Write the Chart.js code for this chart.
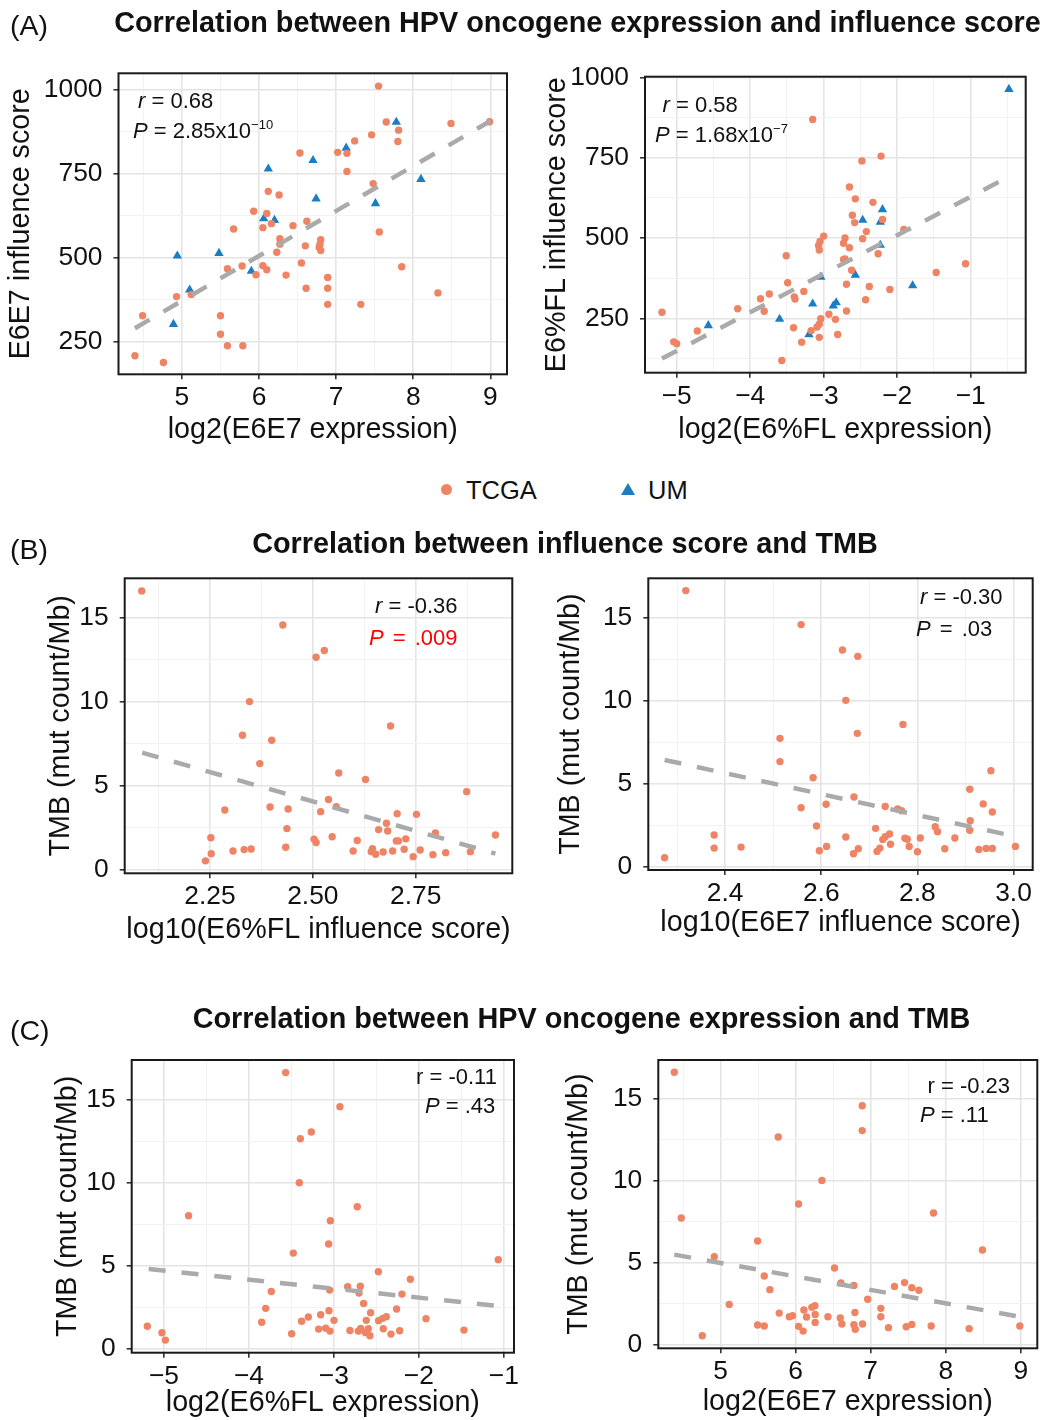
<!DOCTYPE html>
<html>
<head>
<meta charset="utf-8">
<script src="https://cdn.jsdelivr.net/npm/chart.js@4.4.0/dist/chart.umd.min.js"></script>
<style>
  body { margin: 0; background: #fff; }
  #page { position: relative; width: 1045px; height: 1420px; overflow: hidden;
          font-family: "Liberation Sans", Arial, sans-serif; color: #111; }
  canvas { position: absolute; }
  .t { position: absolute; white-space: nowrap; line-height: 1; z-index: 2; }
  .sup { font-size: 13px; position: relative; top: -9px; }
</style>
</head>
<body>
<div id="page"></div>
<script>
// ---- data ----

// (A) left: E6E7 influence score vs log2(E6E7 expression)
const a1TcgaX = [7.55, 7.65, 7.81, 7.80, 8.49, 8.99, 7.46, 7.24, 7.02, 7.14, 7.14, 6.53, 7.48, 6.12, 6.26, 5.93, 6.10, 6.16, 6.05, 6.44, 6.62, 5.67, 6.27, 6.27, 6.23, 6.60, 6.80, 6.79, 6.78, 6.80, 6.55, 7.56, 7.85, 5.78, 6.05, 6.10, 5.59, 5.96, 6.35, 6.89, 6.61, 6.89, 6.89, 7.32, 8.32, 5.12, 4.93, 5.50, 5.50, 5.59, 5.79, 4.49, 4.39, 4.76];
const a1TcgaY = [1010, 903, 879, 845, 899, 904, 865, 847, 813, 810, 756, 811, 720, 697, 686, 638, 631, 601, 589, 595, 608, 585, 556, 540, 516, 535, 553, 540, 530, 521, 484, 576, 473, 475, 476, 464, 467, 449, 448, 441, 409, 409, 361, 361, 395, 390, 384, 327, 272, 238, 238, 327, 208, 188];
const a1UmX = [7.78, 7.13, 6.70, 6.12, 8.10, 6.74, 7.51, 6.06, 6.20, 4.94, 5.48, 5.90, 5.10, 4.89];
const a1UmY = [903, 826, 789, 764, 733, 675, 661, 616, 611, 505, 513, 460, 404, 302];
const a1FitX = [4.39, 9.0];
const a1FitY = [290, 906];
const a1XTicks = [5, 6, 7, 8, 9];
const a1XLabels = ['5', '6', '7', '8', '9'];
const a1YTicks = [250, 500, 750, 1000];
const a1YLabels = ['250', '500', '750', '1000'];

// (A) right: E6%FL influence score vs log2(E6%FL expression)
const a2TcgaX = [-3.15, -2.22, -2.48, -2.65, -2.57, -2.33, -2.61, -2.58, -2.20, -2.42, -2.47, -2.71, -2.73, -2.65, -1.91, -3.00, -3.05, -3.07, -3.06, -3.51, -2.71, -2.73, -2.26, -1.07, -1.47, -2.62, -3.49, -2.69, -2.38, -2.10, -3.74, -3.86, -3.27, -3.40, -3.39, -2.43, -4.17, -3.81, -2.69, -5.20, -2.93, -3.04, -2.84, -3.06, -3.09, -3.41, -3.17, -2.81, -3.06, -4.72, -5.04, -5.00, -3.30, -3.57];
const a2TcgaY = [869, 755, 740, 659, 622, 611, 571, 548, 558, 520, 498, 500, 484, 470, 527, 506, 489, 477, 463, 445, 435, 433, 451, 420, 393, 400, 361, 356, 349, 340, 326, 311, 334, 317, 310, 308, 280, 272, 273, 269, 263, 249, 247, 232, 223, 221, 212, 200, 191, 211, 177, 171, 176, 119];
const a2UmX = [-0.48, -2.20, -2.47, -2.23, -2.23, -2.57, -3.04, -1.79, -3.15, -2.83, -2.87, -3.60, -4.57, -3.20];
const a2UmY = [963, 589, 556, 550, 478, 385, 379, 352, 295, 299, 289, 248, 228, 200];
const a2FitX = [-5.20, -0.48];
const a2FitY = [125, 691];
const a2XTicks = [-5, -4, -3, -2, -1];
const a2XLabels = ['\u22125', '\u22124', '\u22123', '\u22122', '\u22121'];
const a2YTicks = [250, 500, 750, 1000];
const a2YLabels = ['250', '500', '750', '1000'];

// (B) left: TMB vs log10(E6%FL influence score)
const b1X = [2.084, 2.427, 2.508, 2.528, 2.346, 2.329, 2.40, 2.689, 2.371, 2.563, 2.628, 2.874, 2.538, 2.286, 2.396, 2.44, 2.557, 2.519, 2.705, 2.752, 2.66, 2.682, 2.679, 2.437, 2.252, 2.547, 2.798, 2.944, 2.503, 2.508, 2.608, 2.703, 2.708, 2.726, 2.434, 2.306, 2.333, 2.35, 2.598, 2.645, 2.642, 2.653, 2.671, 2.694, 2.722, 2.761, 2.744, 2.792, 2.823, 2.883, 2.253, 2.239];
const b1Y = [16.59, 14.56, 12.64, 13.04, 10.0, 8.0, 7.70, 8.55, 6.31, 5.75, 5.36, 4.64, 4.17, 3.55, 3.73, 3.61, 3.75, 3.45, 3.33, 3.29, 2.38, 2.30, 2.76, 2.44, 1.90, 1.96, 2.18, 2.06, 1.81, 1.61, 1.73, 1.71, 1.71, 1.83, 1.33, 1.11, 1.19, 1.23, 1.11, 1.25, 1.07, 0.91, 1.05, 1.11, 1.21, 1.17, 0.77, 0.89, 1.01, 1.07, 0.95, 0.52];
const b1FitX = [2.085, 2.944];
const b1FitY = [6.96, 0.95];
const b1XTicks = [2.25, 2.5, 2.75];
const b1XLabels = ['2.25', '2.50', '2.75'];

// (B) right: TMB vs log10(E6E7 influence score)
const b2X = [2.318, 2.558, 2.644, 2.676, 2.651, 2.77, 2.675, 2.514, 2.514, 2.583, 2.953, 2.909, 2.668, 2.558, 2.61, 2.733, 2.759, 2.767, 2.937, 2.956, 2.91, 2.59, 2.713, 2.837, 2.842, 2.909, 2.651, 2.742, 2.733, 2.728, 2.774, 2.779, 2.806, 2.878, 2.377, 2.377, 2.433, 2.611, 2.596, 2.677, 2.667, 2.716, 2.722, 2.744, 2.783, 2.80, 2.857, 2.928, 2.943, 2.956, 3.004, 2.274];
const b2Y = [16.63, 14.58, 13.05, 12.67, 10.02, 8.57, 8.03, 7.73, 6.33, 5.36, 5.78, 4.66, 4.20, 3.55, 3.76, 3.63, 3.47, 3.37, 3.78, 3.29, 2.77, 2.45, 2.31, 2.41, 2.11, 2.19, 1.79, 1.97, 1.81, 1.63, 1.71, 1.65, 1.73, 1.73, 1.91, 1.12, 1.18, 1.22, 0.96, 1.08, 0.78, 0.92, 1.12, 1.35, 1.22, 0.90, 1.08, 1.04, 1.10, 1.10, 1.22, 0.54];
const b2FitX = [2.274, 3.006];
const b2FitY = [6.43, 1.81];
const b2XTicks = [2.4, 2.6, 2.8, 3.0];
const b2XLabels = ['2.4', '2.6', '2.8', '3.0'];

// (C) left: TMB vs log2(E6%FL expression)
const c1X = [-3.568, -2.929, -3.266, -3.395, -3.407, -2.725, -4.71, -3.042, -3.062, -3.478, -1.065, -2.477, -2.10, -3.737, -2.838, -2.689, -2.705, -3.05, -2.199, -3.803, -2.65, -3.058, -2.262, -2.568, -3.301, -3.156, -2.383, -2.426, -2.474, -3.38, -2.999, -2.619, -1.916, -3.85, -5.196, -3.18, -3.097, -3.046, -2.811, -2.713, -2.685, -2.595, -2.63, -2.576, -2.419, -2.328, -2.226, -1.469, -3.497, -5.024, -4.984];
const c1Y = [16.63, 14.58, 13.05, 12.65, 10.0, 8.55, 8.01, 7.71, 6.31, 5.76, 5.36, 4.64, 4.18, 3.45, 3.73, 3.76, 3.35, 3.53, 3.29, 2.43, 2.73, 2.29, 2.39, 2.17, 1.91, 2.05, 1.93, 1.83, 1.69, 1.65, 1.71, 1.71, 1.81, 1.59, 1.35, 1.18, 1.24, 1.06, 1.10, 1.06, 1.22, 1.20, 0.98, 0.78, 1.20, 0.88, 1.08, 1.12, 0.90, 0.96, 0.52];
const c1FitX = [-5.18, -1.065];
const c1FitY = [4.80, 2.57];

// (C) right: TMB vs log2(E6E7 expression)
const c2X = [4.383, 4.476, 5.768, 6.887, 6.887, 6.35, 6.039, 7.837, 5.493, 4.916, 8.489, 6.518, 5.582, 6.603, 6.776, 7.451, 7.317, 7.548, 7.642, 5.657, 6.96, 5.115, 6.256, 6.216, 6.11, 7.135, 5.781, 6.26, 6.79, 5.915, 5.959, 6.145, 6.43, 6.594, 7.135, 6.26, 6.616, 6.776, 6.891, 5.493, 5.582, 6.039, 6.10, 6.794, 7.237, 7.473, 7.548, 7.806, 8.312, 8.987, 4.756];
const c2Y = [16.61, 7.71, 12.66, 14.57, 13.05, 10.01, 8.57, 8.02, 6.31, 5.35, 5.76, 4.66, 4.17, 3.75, 3.60, 3.77, 3.54, 3.46, 3.30, 3.34, 2.75, 2.44, 2.36, 2.26, 2.10, 2.20, 1.91, 1.83, 1.95, 1.69, 1.75, 1.67, 1.69, 1.61, 1.69, 1.34, 1.24, 1.20, 1.24, 1.18, 1.12, 1.10, 0.81, 0.92, 1.02, 1.08, 1.22, 1.12, 0.96, 1.12, 0.53];
const c2FitX = [4.383, 8.987];
const c2FitY = [5.48, 1.69];

const tmbTicks = [0, 5, 10, 15];
const tmbLabels = ['0', '5', '10', '15'];

// ---- drawing ----
const ORANGE = '#ee8464';
const BLUE = '#1b7ec2';
const page = document.getElementById('page');
const TICK_FONT = { family: 'Liberation Sans', size: 26.4 };
const TITLE_FONT = { family: 'Liberation Sans', size: 28.7 };

const pts = (xs, ys) => xs.map((x, i) => ({ x: x, y: ys[i] }));

// ggplot-like major + minor breaks
function withMinor(major, min, max) {
  const step = major[1] - major[0];
  const ext = [major[0] - step].concat(major, [major[major.length - 1] + step]);
  const minor = [];
  for (let i = 0; i < ext.length - 1; i++) minor.push((ext[i] + ext[i + 1]) / 2);
  return major.map(v => ({ value: v, minor: false }))
    .concat(minor.map(v => ({ value: v, minor: true })))
    .filter(t => t.value >= min && t.value <= max)
    .sort((a, b) => a.value - b.value);
}

function axis(o) {
  const isMinor = c => c.tick && c.tick.minor;
  return {
    type: 'linear', min: o.min, max: o.max,
    afterBuildTicks: s => { s.ticks = withMinor(o.ticks, o.min, o.max); },
    afterFit: o.fit,
    ticks: {
      autoSkip: false, maxRotation: 0, padding: o.tickPad, color: '#111', font: TICK_FONT,
      callback: (v, i, t) => t[i].minor ? '' : o.labels[o.ticks.indexOf(t[i].value)]
    },
    grid: {
      color: c => isMinor(c) ? '#f2f2f2' : '#e4e4e4',
      lineWidth: c => isMinor(c) ? 1 : 1.6,
      tickColor: c => isMinor(c) ? 'rgba(0,0,0,0)' : '#333',
      tickLength: 5
    },
    border: { display: false },
    title: { display: true, text: o.title, color: '#111', font: TITLE_FONT, padding: o.titlePad }
  };
}

const frame = {
  id: 'frame',
  afterDraw(chart) {
    const a = chart.chartArea, ctx = chart.ctx;
    ctx.save();
    ctx.strokeStyle = '#1a1a1a';
    ctx.lineWidth = 2;
    ctx.strokeRect(a.left, a.top, a.right - a.left, a.bottom - a.top);
    ctx.restore();
  }
};

function panel(p) {
  const c = document.createElement('canvas');
  c.width = p.reg.w; c.height = p.reg.h;
  c.style.left = p.reg.l + 'px'; c.style.top = p.reg.t + 'px';
  page.appendChild(c);
  const lh = TITLE_FONT.size * 1.2 / 2;
  const datasets = [{
    data: pts(p.fit[0], p.fit[1]), showLine: true, borderColor: '#aaaaaa', borderWidth: 4.5,
    borderDash: [17, 16], pointRadius: 0, order: 0
  }];
  p.series.forEach(s => datasets.push({
    data: pts(s.x, s.y), pointStyle: s.shape, pointRadius: s.shape === 'triangle' ? 5.4 : 3.7,
    backgroundColor: s.color, borderWidth: 0, pointBorderWidth: 0, order: 1
  }));
  new Chart(c, {
    type: 'scatter',
    data: { datasets: datasets },
    options: {
      responsive: false, animation: false, devicePixelRatio: 1, events: [],
      layout: { padding: { left: 0, bottom: 0, top: p.box.y0 - p.reg.t, right: p.reg.l + p.reg.w - p.box.x1 } },
      plugins: { legend: { display: false }, tooltip: { enabled: false } },
      scales: {
        x: axis({
          min: p.xr[0], max: p.xr[1], ticks: p.xt, labels: p.xl, title: p.xTitle, tickPad: 3,
          titlePad: { top: 0, bottom: Math.max(0, p.reg.t + p.reg.h - p.xTitleY - lh) },
          fit: s => { s.height = p.reg.t + p.reg.h - p.box.y1; }
        }),
        y: axis({
          min: p.yr[0], max: p.yr[1], ticks: p.yt, labels: p.yl, title: p.yTitle, tickPad: 11,
          titlePad: { top: Math.max(0, p.yTitleX - p.reg.l - lh), bottom: 0 },
          fit: s => { s.width = p.box.x0 - p.reg.l; }
        })
      }
    },
    plugins: [frame]
  });
}

panel({
  reg: { l: 0, t: 40, w: 530, h: 415 }, box: { x0: 118.5, x1: 507, y0: 73.3, y1: 374.3 },
  xr: [4.177, 9.216], yr: [153, 1048], xt: a1XTicks, xl: a1XLabels, yt: a1YTicks, yl: a1YLabels,
  xTitle: 'log2(E6E7 expression)', yTitle: 'E6E7 influence score', xTitleY: 430, yTitleX: 21,
  fit: [a1FitX, a1FitY],
  series: [{ x: a1TcgaX, y: a1TcgaY, shape: 'circle', color: ORANGE }, { x: a1UmX, y: a1UmY, shape: 'triangle', color: BLUE }]
});
panel({
  reg: { l: 530, t: 45, w: 515, h: 410 }, box: { x0: 645, x1: 1025.7, y0: 76.7, y1: 372.7 },
  xr: [-5.431, -0.252], yr: [81, 1002], xt: a2XTicks, xl: a2XLabels, yt: a2YTicks, yl: a2YLabels,
  xTitle: 'log2(E6%FL expression)', yTitle: 'E6%FL influence score', xTitleY: 430, yTitleX: 557,
  fit: [a2FitX, a2FitY],
  series: [{ x: a2TcgaX, y: a2TcgaY, shape: 'circle', color: ORANGE }, { x: a2UmX, y: a2UmY, shape: 'triangle', color: BLUE }]
});
panel({
  reg: { l: 0, t: 545, w: 535, h: 405 }, box: { x0: 124.7, x1: 512.3, y0: 578.3, y1: 873.3 },
  xr: [2.0426, 2.985], yr: [-0.22, 17.34], xt: b1XTicks, xl: b1XLabels, yt: tmbTicks, yl: tmbLabels,
  xTitle: 'log10(E6%FL influence score)', yTitle: 'TMB (mut count/Mb)', xTitleY: 930, yTitleX: 61,
  fit: [b1FitX, b1FitY],
  series: [{ x: b1X, y: b1Y, shape: 'circle', color: ORANGE }]
});
panel({
  reg: { l: 535, t: 545, w: 510, h: 405 }, box: { x0: 648.3, x1: 1032.7, y0: 578.3, y1: 870 },
  xr: [2.24, 3.04], yr: [-0.2, 17.37], xt: b2XTicks, xl: b2XLabels, yt: tmbTicks, yl: tmbLabels,
  xTitle: 'log10(E6E7 influence score)', yTitle: 'TMB (mut count/Mb)', xTitleY: 923.5, yTitleX: 571,
  fit: [b2FitX, b2FitY],
  series: [{ x: b2X, y: b2Y, shape: 'circle', color: ORANGE }]
});
panel({
  reg: { l: 0, t: 1025, w: 540, h: 395 }, box: { x0: 131.7, x1: 514, y0: 1060, y1: 1352.7 },
  xr: [-5.38, -0.88], yr: [-0.24, 17.39], xt: a2XTicks, xl: a2XLabels, yt: tmbTicks, yl: tmbLabels,
  xTitle: 'log2(E6%FL expression)', yTitle: 'TMB (mut count/Mb)', xTitleY: 1403, yTitleX: 68,
  fit: [c1FitX, c1FitY],
  series: [{ x: c1X, y: c1Y, shape: 'circle', color: ORANGE }]
});
panel({
  reg: { l: 540, t: 1025, w: 505, h: 395 }, box: { x0: 658.3, x1: 1037.3, y0: 1060, y1: 1348.3 },
  xr: [4.17, 9.22], yr: [-0.24, 17.36], xt: a1XTicks, xl: a1XLabels, yt: tmbTicks, yl: tmbLabels,
  xTitle: 'log2(E6E7 expression)', yTitle: 'TMB (mut count/Mb)', xTitleY: 1402, yTitleX: 579,
  fit: [c2FitX, c2FitY],
  series: [{ x: c2X, y: c2Y, shape: 'circle', color: ORANGE }]
});

// ---- text laid over the canvases ----
function txt(html, x, base, size, align, extra) {
  const d = document.createElement('div');
  d.className = 't';
  d.innerHTML = html;
  d.style.fontSize = size + 'px';
  d.style.top = (base - 0.8465 * size) + 'px';
  d.style.left = x + 'px';
  if (align === 'center') d.style.transform = 'translateX(-50%)';
  Object.assign(d.style, extra || {});
  page.appendChild(d);
}
const bold = { fontWeight: 'bold' };

txt('(A)', 10, 35, 28.5);
txt('Correlation between HPV oncogene expression and influence score', 577.5, 32, 28.8, 'center', bold);
txt('(B)', 10, 559, 28.5);
txt('Correlation between influence score and TMB', 565, 553, 28.8, 'center', bold);
txt('(C)', 10, 1040, 28.5);
txt('Correlation between HPV oncogene expression and TMB', 581.5, 1028, 28.8, 'center', bold);

// shared legend
txt('TCGA', 466, 499.5, 25.5);
txt('UM', 648, 499.5, 25.5);
const dot = document.createElement('div');
Object.assign(dot.style, { position: 'absolute', left: '441px', top: '483.5px', width: '11px', height: '11px',
  borderRadius: '50%', background: ORANGE });
page.appendChild(dot);
const tri = document.createElement('div');
Object.assign(tri.style, { position: 'absolute', left: '621px', top: '483px', width: 0, height: 0,
  borderLeft: '7px solid transparent', borderRight: '7px solid transparent', borderBottom: '12px solid ' + BLUE });
page.appendChild(tri);

// correlation labels
txt('<i>r</i> = 0.68', 138, 109, 22);
txt('<i>P</i> = 2.85x10<span class="sup">\u221210</span>', 133, 138.5, 22);
txt('<i>r</i> = 0.58', 662.5, 112.5, 22);
txt('<i>P</i> = 1.68x10<span class="sup">\u22127</span>', 655, 142.5, 22);
txt('<i>r</i> = -0.36', 375, 613.5, 22);
txt('<i>P</i> = .009', 369, 646, 22, 'left', { color: '#ff0000', wordSpacing: '3px' });
txt('<i>r</i> = -0.30', 920, 605, 22);
txt('<i>P</i> = .03', 916, 636.5, 22, 'left', { wordSpacing: '3px' });
txt('r = -0.11', 416, 1084.5, 22);
txt('<i>P</i> = .43', 425, 1113.5, 22);
txt('r = -0.23', 927.5, 1093.5, 22);
txt('<i>P</i> = .11', 920, 1122.5, 22);
</script>
</body>
</html>
